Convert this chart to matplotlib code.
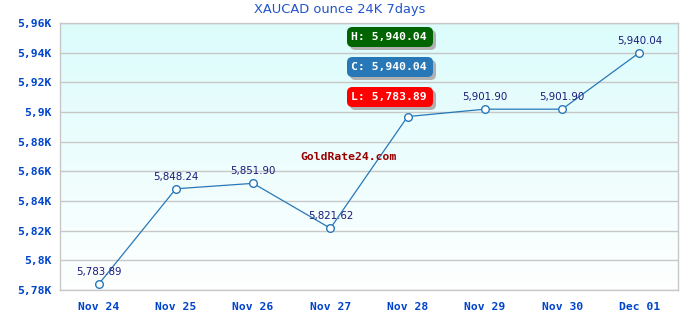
import matplotlib
matplotlib.use("Agg")
import matplotlib.pyplot as plt
import numpy as np
from matplotlib.patches import FancyBboxPatch

dates = ["Nov 24", "Nov 25", "Nov 26", "Nov 27", "Nov 28", "Nov 29", "Nov 30", "Dec 01"]
values = [5783.89, 5848.24, 5851.90, 5821.62, 5896.92, 5901.90, 5901.90, 5940.04]
yticks = [5780, 5800, 5820, 5840, 5860, 5880, 5900, 5920, 5940, 5960]
ytick_labels = ["5,78K", "5,8K", "5,82K", "5,84K", "5,86K", "5,88K", "5,9K", "5,92K", "5,94K", "5,96K"]
badges = [("H: 5,940.04", "#006400"), ("C: 5,940.04", "#2878b8"), ("L: 5,783.89", "#ff0000")]

W, H = 680, 320
fig = plt.figure(figsize=(6.8, 3.2), dpi=100)
L, R, T, B = 60, 678, 23, 290
ax = fig.add_axes([L / W, 1 - B / H, (R - L) / W, (B - T) / H])

# gradient background
grad = np.linspace(0, 1, 256).reshape(-1, 1)
top = np.array([220, 252, 252]) / 255
bot = np.array([254, 255, 255]) / 255
img = top[None, None, :] * (1 - grad[:, :, None]) + bot[None, None, :] * grad[:, :, None]
ax.imshow(img, extent=[0, 1, 0, 1], transform=ax.transAxes, aspect="auto", zorder=0)

x = np.arange(len(dates))
ax.set_xlim(-0.5, len(dates) - 0.5)
ax.set_ylim(5780, 5960)
ax.set_yticks(yticks)
ax.set_yticklabels(ytick_labels)
ax.set_xticks(x)
ax.set_xticklabels(dates)
ax.grid(axis="y", color="#c8c8c8", lw=1, zorder=1)
ax.tick_params(axis="x", length=0, pad=9, labelcolor="#0044cc")
ax.tick_params(axis="y", length=0, pad=6, labelcolor="#0044cc")
for lab in ax.get_xticklabels() + ax.get_yticklabels():
    lab.set_fontfamily("DejaVu Sans Mono")
    lab.set_fontweight("bold")
    lab.set_fontsize(8.2)
for s in ax.spines.values():
    s.set_color("#c8c8c8")
    s.set_linewidth(1)

ax.plot(x, values, color="#2878b8", lw=0.9, marker="o", ms=5.5, mfc="white",
        mec="#2878b8", mew=1, zorder=3)
for xi, v in zip(x, values):
    ax.annotate(f"{v:,.2f}", (xi, v), xytext=(0, 12), textcoords="offset pixels",
                ha="center", va="center", fontsize=7.4, color="#1a1a7a", zorder=4)

fig.text(0.5, 1 - 10 / H, "XAUCAD ounce 24K 7days", ha="center", va="center",
         fontsize=9.4, color="#2255cc")
fig.text(300 / W, 1 - 157 / H, "GoldRate24.com", ha="left", va="center",
         fontfamily="DejaVu Sans Mono", fontweight="bold", fontsize=8.2, color="#990000", zorder=5)

tops = [27, 57, 87]
bw, bh = 86, 20
for (txt, col), ty in zip(badges, tops):
    for dx, dy, c in [(3, 3, "#b0b0b0"), (0, 0, col)]:
        p = FancyBboxPatch(((347 + dx) / W, 1 - (ty + dy + bh) / H), bw / W, bh / H,
                           boxstyle="round,pad=0,rounding_size=0.008",
                           transform=fig.transFigure, facecolor=c, edgecolor="none",
                           zorder=10, mutation_aspect=W / H)
        fig.patches.append(p)
    fig.text(351 / W, 1 - (ty + bh / 2) / H, txt, ha="left", va="center",
             fontfamily="DejaVu Sans Mono", fontweight="bold", fontsize=8.2,
             color="white", zorder=11)

fig.savefig("out.png", dpi=100)
